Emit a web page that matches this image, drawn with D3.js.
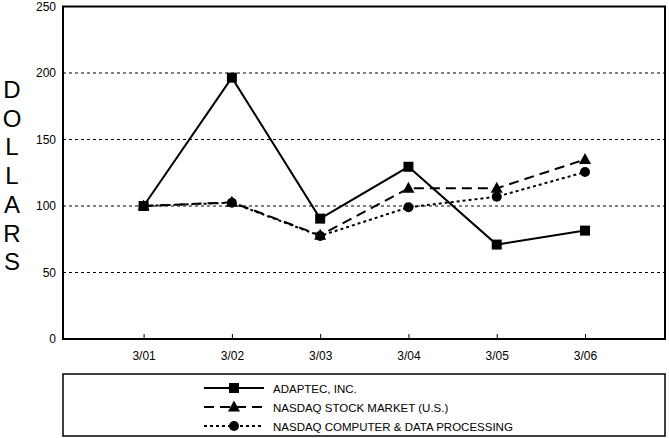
<!DOCTYPE html>
<html><head><meta charset="utf-8">
<script src="https://cdn.jsdelivr.net/npm/d3@7"></script>
<style>body{margin:0;background:#fff}svg{display:block}text{font-family:"Liberation Sans",Arial,sans-serif;fill:#000}</style>
</head><body><svg id="c" width="669" height="438"></svg>
<script>
const categories = ["3/01","3/02","3/03","3/04","3/05","3/06"];
const adaptec = [100, 196.5, 90.5, 129.5, 71, 81.5];
const nasdaqMarket = [100, 102.8, 78, 113.3, 113.3, 135];
const nasdaqComputer = [100, 102.5, 77.5, 99, 107, 125.5];
const yTicks = [0, 50, 100, 150, 200, 250];
const seriesNames = ["ADAPTEC, INC.", "NASDAQ STOCK MARKET (U.S.)", "NASDAQ COMPUTER & DATA PROCESSING"];
const yLabel = "DOLLARS";

const svg = d3.select("#c");
const L = 63, R = 665, T = 6.5, B = 339;
const x = d3.scaleLinear().domain([-0.913, categories.length - 1 + 0.906]).range([L, R]);
const y = d3.scaleLinear().domain([0, 250]).range([B, T]);

// gridlines
svg.append("g").selectAll("line").data(yTicks.filter(d => d > 0 && d < 250)).join("line")
  .attr("x1", L).attr("x2", R).attr("y1", d => y(d)).attr("y2", d => y(d))
  .attr("stroke", "#000").attr("stroke-width", 1).attr("stroke-dasharray", "3,3");

// y axis labels
const yAx = d3.axisLeft(y).tickValues(yTicks).tickSize(0).tickPadding(7);
const gy = svg.append("g").attr("transform", `translate(${L},0)`).call(yAx);
gy.select(".domain").remove();
gy.selectAll("text").style("font-size", "12px").style("font-family", "Liberation Sans, Arial, sans-serif");

// x axis
const xAx = d3.axisBottom(x).tickValues(d3.range(categories.length)).tickFormat(i => categories[i]).tickSize(-5).tickPadding(12);
const gx = svg.append("g").attr("transform", `translate(0,${B})`).call(xAx);
gx.select(".domain").remove();
gx.selectAll("line").attr("stroke", "#000");
gx.selectAll("text").style("font-size", "12px").style("font-family", "Liberation Sans, Arial, sans-serif");

// frame
svg.append("rect").attr("x", L).attr("y", T).attr("width", R - L).attr("height", B - T)
  .attr("fill", "none").attr("stroke", "#000").attr("stroke-width", 2);

// y label
svg.append("g").selectAll("text").data(yLabel.split("")).join("text")
  .attr("x", 12).attr("y", (d, i) => 98 + i * 28.7).attr("text-anchor", "middle")
  .style("font-size", "24px").text(d => d);

const line = d3.line().x((d, i) => x(i)).y(d => y(d));
const series = [
  {v: nasdaqMarket, dash: "10,6", m: "tri"},
  {v: nasdaqComputer, dash: "3,3", m: "circ"},
  {v: adaptec, dash: null, m: "sq"}
];
function marker(g, type, cx, cy) {
  if (type === "sq") g.append("rect").attr("x", cx - 5).attr("y", cy - 5).attr("width", 10).attr("height", 10).attr("fill", "#000");
  else if (type === "tri") g.append("path").attr("d", `M${cx},${cy-6.5}L${cx+6},${cy+4.5}L${cx-6},${cy+4.5}Z`).attr("fill", "#000");
  else g.append("circle").attr("cx", cx).attr("cy", cy).attr("r", 5).attr("fill", "#000");
}
series.forEach(s => {
  svg.append("path").datum(s.v).attr("d", line).attr("fill", "none").attr("stroke", "#000")
    .attr("stroke-width", 2).attr("stroke-dasharray", s.dash);
  const g = svg.append("g");
  s.v.forEach((d, i) => marker(g, s.m, x(i), y(d)));
});

// legend
svg.append("rect").attr("x", 63).attr("y", 374).attr("width", 602).attr("height", 62)
  .attr("fill", "none").attr("stroke", "#000").attr("stroke-width", 1.5);
const legItems = [
  {name: seriesNames[0], dash: null, m: "sq"},
  {name: seriesNames[1], dash: "10,6", m: "tri"},
  {name: seriesNames[2], dash: "3,3", m: "circ"}
];
legItems.forEach((it, i) => {
  const ly = 388 + i * 19;
  const g = svg.append("g");
  g.append("line").attr("x1", 204).attr("x2", 264).attr("y1", ly).attr("y2", ly)
    .attr("stroke", "#000").attr("stroke-width", 2).attr("stroke-dasharray", it.dash);
  marker(g, it.m, 234, ly);
  g.append("text").attr("x", 273).attr("y", ly + 4.5).style("font-size", "11.5px").text(it.name);
});
</script></body></html>
